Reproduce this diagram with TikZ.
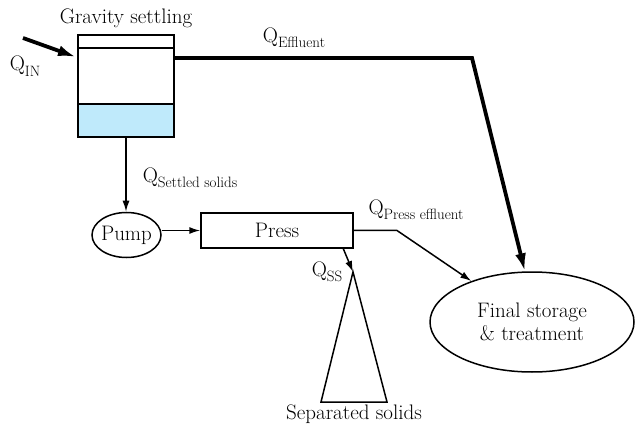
\documentclass[tikz,border=0pt]{standalone}
\usetikzlibrary{shapes.geometric,arrows.meta}
\newcommand\flowQ[1]{Q\raisebox{-0.6ex}{\fontsize{15}{15}\selectfont#1}}
\begin{document}
\begin{tikzpicture}[>={Latex[length=11pt,width=7pt]}, x=1pt, y=-1pt, line width=1.5pt,
  font=\fontsize{21}{23}\selectfont,
  unit/.style={draw, inner sep=0pt},
  flow/.style={-{Latex[length=18pt,width=11pt]}, line width=3.8pt}]
\useasboundingbox (0,0) rectangle (636,427);
% settling tank
\fill[cyan!25] (78,104) rectangle (174,137);
\draw (78,35) rectangle (174,137);
\draw (78,48)--(174,48) (78,104)--(174,104);
\node (tanklabel) at (126,18) {Gravity settling};
\coordinate (tankin) at (76,57);
\coordinate (tankout) at (174,58);
\coordinate (tankbot) at (126,137);
\coordinate (qin) at (23,38);
\node (qinlabel) at (25,66) {\flowQ{IN}};
% units
\node[unit, ellipse, inner xsep=-4pt, minimum width=69, minimum height=45] (pump) at (126.5,235) {Pump};
\node[unit, minimum width=152, minimum height=35] (press) at (277,230.5) {Press};
\node[unit, ellipse, minimum width=204, minimum height=100, align=center] (store) at (532,322) {Final storage\\ \& treatment};
% separated solids heap
\coordinate (heap) at (353,272);
\draw (heap) -- (321,402) -- (387,402) -- cycle;
\node (heaplabel) at (354,414) {Separated solids};
\coordinate (pressout) at (343,248);
% flows
\draw[flow] (qin) -- (tankin);
\draw[flow] (tankout) -- (472,58) -- (store.98);
\node (efflabel) at (294,38) {\flowQ{Effluent}};
\draw[->] (tankbot) -- (tankbot |- pump.north);
\node (setlabel) at (190,178) {\flowQ{Settled solids}};
\draw[->] (pump.east |- press.west) -- (press.west);
\draw[->] (press.east) -- (397,230.5) -- (store.146);
\node (presslabel) at (416,210) {\flowQ{Press effluent}};
\draw[->] (pressout) -- (heap);
\node (sslabel) at (327,272) {\flowQ{SS}};
\end{tikzpicture}
\end{document}
